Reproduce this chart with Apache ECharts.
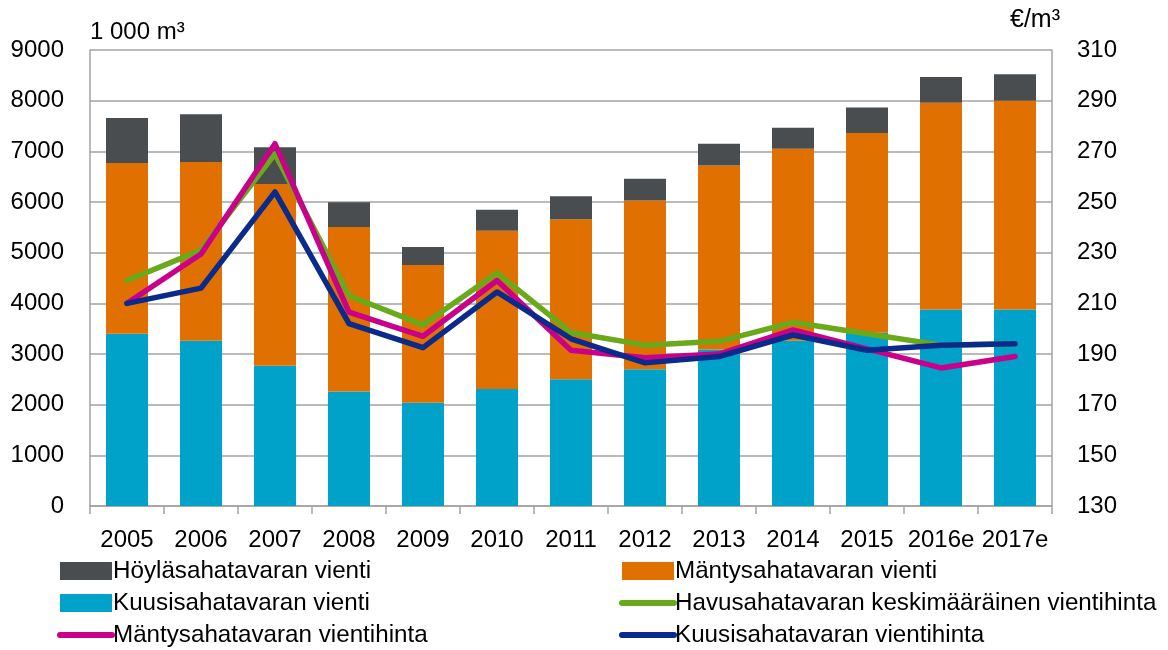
<!DOCTYPE html>
<html>
<head>
<meta charset="utf-8">
<script src="https://cdn.jsdelivr.net/npm/echarts@6/dist/echarts.min.js"></script>
<style>
  html, body { margin: 0; padding: 0; background: #fff; }
  #chart { width: 1168px; height: 650px; }
</style>
</head>
<body>
<div id="chart"></div>
<script>
// vuodet
var years = ['2005', '2006', '2007', '2008', '2009', '2010', '2011', '2012', '2013', '2014', '2015', '2016e', '2017e']

// vienti, 1 000 m³
var kuusiVienti = [3400, 3260, 2770, 2260, 2040, 2310, 2500, 2700, 3090, 3260, 3420, 3880, 3880]
var mantyVienti = [3370, 3530, 3585, 3245, 2715, 3125, 3160, 3330, 3630, 3790, 3940, 4080, 4120]
var hoylaVienti = [890, 940, 725, 490, 355, 410, 455, 430, 430, 415, 505, 505, 520]

// vientihinnat, €/m³
var havuHinta = [219, 231, 269, 213, 201.5, 222, 198.5, 193.5, 195, 202.5, 198, 193.5, 194]
var mantyHinta = [210, 229.5, 273, 206.5, 197, 219, 191.5, 188.5, 190, 199.5, 192, 184.5, 189]
var kuusiHinta = [210, 216, 254, 202, 192.5, 214.5, 196, 186.5, 189, 197.5, 191.5, 193.5, 194]

var FONT = '"Liberation Sans", Arial, sans-serif'
var gridColor = '#a3a3a3'

var chart = echarts.init(document.getElementById('chart'))

function lineSerie(name, data, color) {
  return {
    name: name,
    type: 'line',
    yAxisIndex: 1,
    data: data,
    symbol: 'none',
    smooth: false,
    z: 5,
    lineStyle: {width: 5.5, color: color, cap: 'round', join: 'round'},
    itemStyle: {color: color}
  }
}

// viiva-selitteen symboli piiloon, viiva paksummaksi
function lineItem(name) {
  return {name: name, itemStyle: {opacity: 0}, lineStyle: {width: 6, cap: 'round'}}
}

var legendText = {fontSize: 24.2, fontFamily: FONT, color: '#000', lineHeight: 24, padding: [0, 0, 0, -4]}

var option = {
  animation: false,
  textStyle: {fontFamily: FONT, color: '#000'},
  grid: {left: 90, right: 116, top: 50, bottom: 144},
  graphic: [
    {type: 'text', left: 90, top: 20, style: {text: '1 000 m³', font: '24px ' + FONT, fill: '#000'}},
    {type: 'text', right: 108, top: 8, style: {text: '€/m³', font: '25px ' + FONT, fill: '#000'}}
  ],
  legend: [
    {
      orient: 'vertical', left: 57, top: 559, height: 120, width: 500, padding: 0,
      itemWidth: 52, itemHeight: 18, itemGap: 8,
      textStyle: legendText,
      data: [
        {name: 'Höyläsahatavaran vienti', icon: 'rect'},
        {name: 'Kuusisahatavaran vienti', icon: 'rect'},
        lineItem('Mäntysahatavaran vientihinta')
      ]
    },
    {
      orient: 'vertical', left: 619, top: 559, height: 120, width: 540, padding: 0,
      itemWidth: 52, itemHeight: 18, itemGap: 8,
      textStyle: legendText,
      data: [
        {name: 'Mäntysahatavaran vienti', icon: 'rect'},
        lineItem('Havusahatavaran keskimääräinen vientihinta'),
        lineItem('Kuusisahatavaran vientihinta')
      ]
    }
  ],
  xAxis: {
    type: 'category',
    data: years,
    axisLine: {lineStyle: {color: gridColor, width: 1.5}},
    axisTick: {show: true, length: 8, lineStyle: {color: gridColor, width: 1.5}},
    axisLabel: {color: '#000', fontSize: 24, fontFamily: FONT, margin: 22, interval: 0}
  },
  yAxis: [
    {
      type: 'value', min: 0, max: 9000, interval: 1000,
      axisLine: {show: true, lineStyle: {color: gridColor, width: 1.5}},
      axisTick: {show: false},
      splitLine: {lineStyle: {color: gridColor, width: 1.5}},
      axisLabel: {color: '#000', fontSize: 24, fontFamily: FONT, margin: 26,
        formatter: function (v) { return String(v) }}
    },
    {
      type: 'value', min: 130, max: 310, interval: 20,
      axisLine: {show: true, lineStyle: {color: gridColor, width: 1.5}},
      axisTick: {show: false},
      splitLine: {show: false},
      axisLabel: {color: '#000', fontSize: 24, fontFamily: FONT, margin: 25}
    }
  ],
  series: [
    {name: 'Kuusisahatavaran vienti', type: 'bar', stack: 'vienti', data: kuusiVienti, barWidth: 42,
      itemStyle: {color: '#00a2c9'}},
    {name: 'Mäntysahatavaran vienti', type: 'bar', stack: 'vienti', data: mantyVienti, barWidth: 42,
      itemStyle: {color: '#e07000'}},
    {name: 'Höyläsahatavaran vienti', type: 'bar', stack: 'vienti', data: hoylaVienti, barWidth: 42,
      itemStyle: {color: '#4a4d50'}},
    lineSerie('Havusahatavaran keskimääräinen vientihinta', havuHinta, '#6aaa1a'),
    lineSerie('Mäntysahatavaran vientihinta', mantyHinta, '#c8008a'),
    lineSerie('Kuusisahatavaran vientihinta', kuusiHinta, '#0a2a8c')
  ]
}

chart.setOption(option)
</script>
</body>
</html>
